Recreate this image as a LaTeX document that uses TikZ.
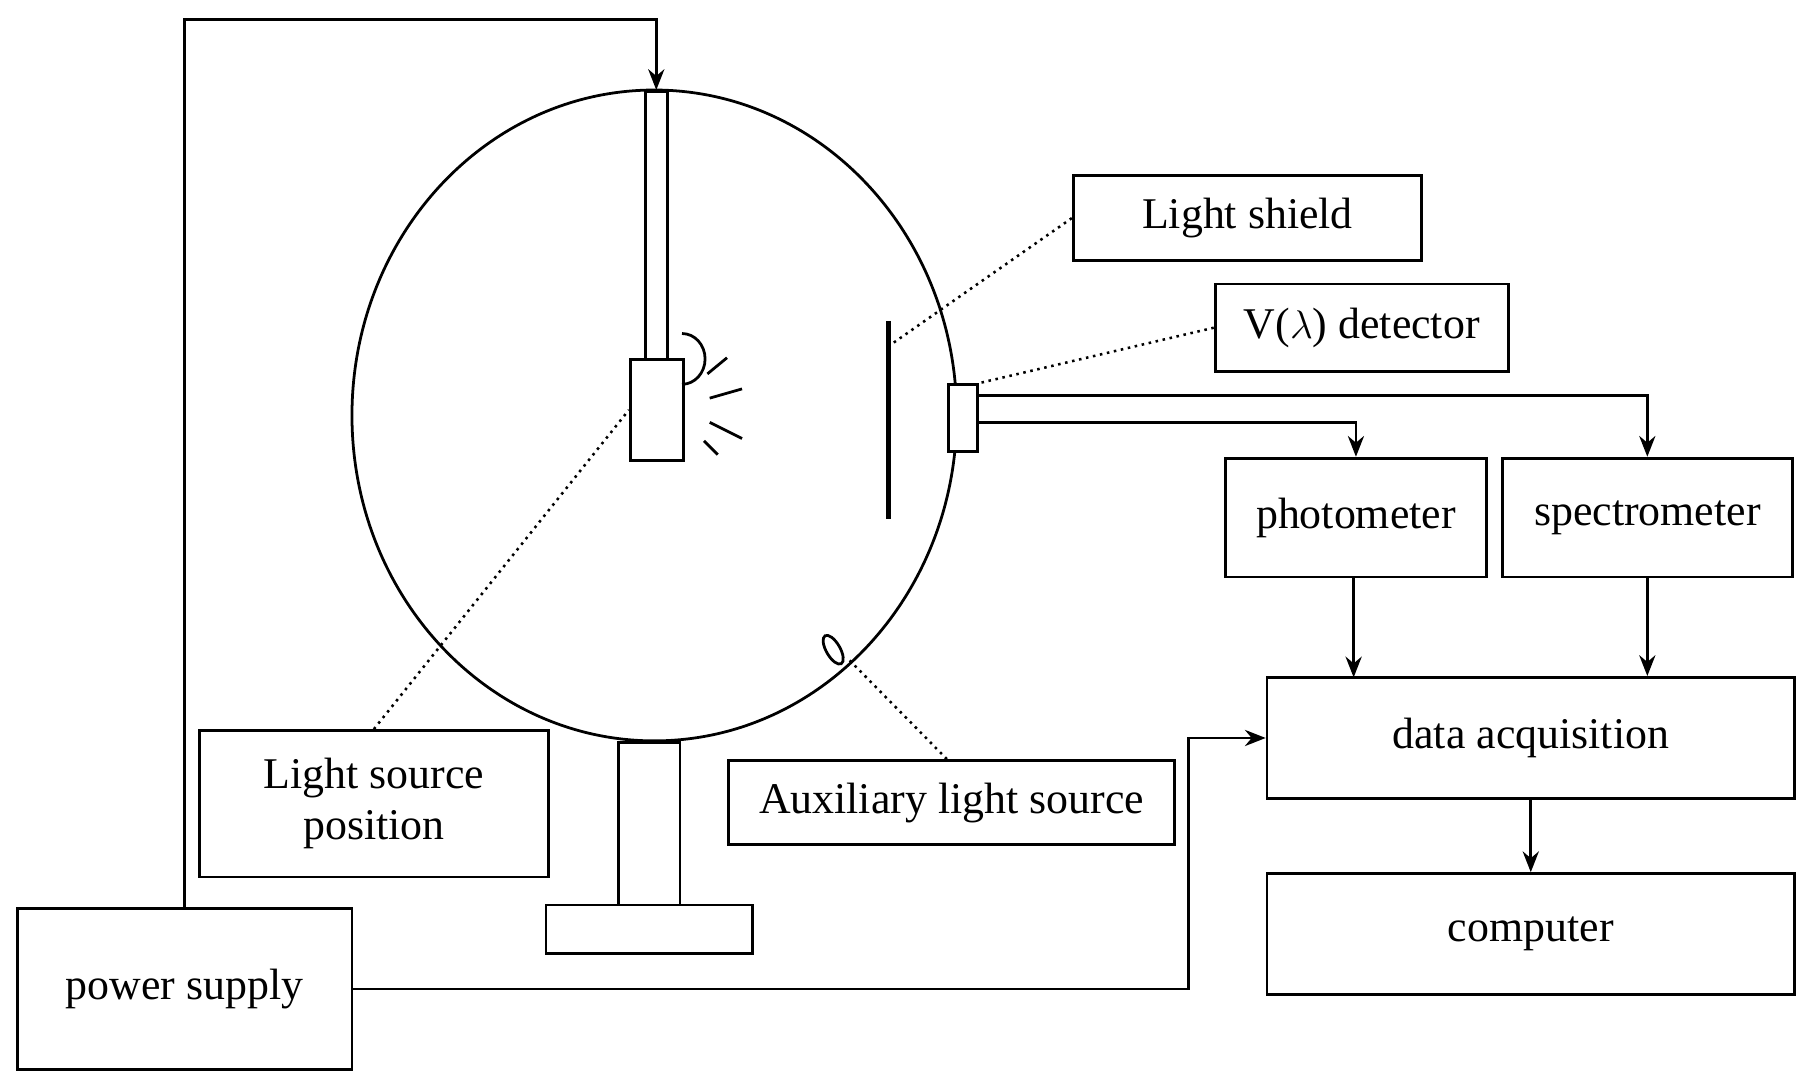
\documentclass[tikz,border=0pt]{standalone}
\usepackage{fontspec}
\setmainfont{Liberation Serif}
\usetikzlibrary{arrows.meta}
\begin{document}
\begin{tikzpicture}[x=0.5pt,y=-0.5pt,line width=1.2pt,
 box/.style={draw,minimum width=0pt,inner sep=0pt,font=\fontsize{19}{22}\selectfont,align=center},
 arr/.style={-{Stealth[length=9pt,width=7pt]}},
 dot/.style={dotted,line width=1.1pt}]
\useasboundingbox (0,0) rectangle (1565,943);
% sphere
\draw (567,360) ellipse [x radius=262,y radius=282];
% rod and lamp
\node[draw,anchor=north west,minimum width=9.5pt,minimum height=116pt,inner sep=0] (rod) at (558,78) {};
\node[draw,anchor=north west,minimum width=23pt,minimum height=44pt,inner sep=0,fill=white] (lamp) at (545,310) {};
\draw (591,333) arc[start angle=90,end angle=-90,x radius=20,y radius=22];
\draw (613,324) -- (630,310) (615,345) -- (643,337) (615,366) -- (643,380) (610,382) -- (622,394);
% shield
\draw[line width=2pt] (770,278) -- (770,450);
\coordinate (shield) at (770,300);
% detector
\node[draw,anchor=north west,minimum width=12.5pt,minimum height=29pt,inner sep=0,fill=white] (det) at (821,332) {};
% stand
\node[draw,anchor=north west,minimum width=26.5pt,minimum height=70.5pt,inner sep=0] (pole) at (535,642) {};
\node[draw,anchor=north west,minimum width=89.5pt,minimum height=21pt,inner sep=0] (base) at (472,783) {};
% aux light
\draw (722,563) ellipse [x radius=6,y radius=14,rotate=30];
\coordinate (aux) at (736,572);
% boxes
\node[box,minimum width=151pt,minimum height=37pt] (ls) at (1081,189) {Light shield};
\node[box,minimum width=127pt,minimum height=38pt] (vd) at (1180,284) {V($\lambda$) detector};
\node[box,minimum width=113pt,minimum height=51.5pt] (ph) at (1175,448.5) {photometer};
\node[box,minimum width=125.5pt,minimum height=51.5pt] (sp) at (1427.5,448.5) {spectrometer};
\node[box,minimum width=228.5pt,minimum height=52.5pt] (da) at (1326.5,639.5) {data acquisition};
\node[box,minimum width=228.5pt,minimum height=52.5pt] (co) at (1326.5,809.5) {computer};
\node[box,minimum width=151pt,minimum height=63.5pt] (lsp) at (324,696.5) {Light source\\position};
\node[box,minimum width=193.5pt,minimum height=36.5pt] (al) at (824.5,695.5) {Auxiliary light source};
\node[box,minimum width=145pt,minimum height=70pt] (ps) at (160,857) {power supply};
% connectors
\draw[dot] (ls.west) -- (shield);
\draw[dot] (vd.west) -- (det.north east);
\draw[dot] (lsp.north) -- (lamp.west);
\draw[dot] (al.north) ++(-4,0) -- (aux);
\draw[arr] (det.east |- 0,343) -| (sp.north);
\draw[arr] (det.east |- 0,366) -| (ph.north);
\draw[arr] (ph.south -| 1173,0) -- (1173,587);
\draw[arr] (sp.south) -- (sp.south |- da.north);
\draw[arr] (da.south) -- (co.north);
\draw[arr] (ps.north) -- (160,17) -| (rod.north);
\draw[arr] (ps.east) -- (1030,857) |- (da.west);
\end{tikzpicture}
\end{document}
